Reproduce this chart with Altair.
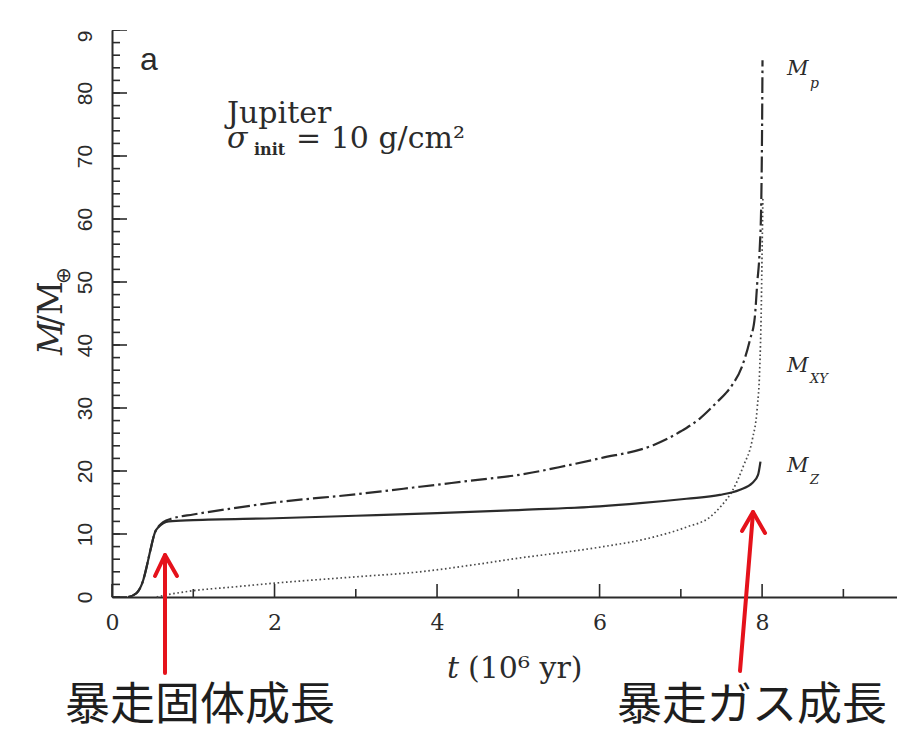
import altair as alt
import pandas as pd

# ---- data: mass components (Earth masses) against time (Myr) ----
# core (solid) mass M_Z
t_z = [0.20, 0.30, 0.38, 0.43, 0.47, 0.53, 0.58, 0.63, 0.70, 1.0, 2.0, 3.0, 4.0,
       5.0, 6.0, 6.5, 7.07, 7.48, 7.72, 7.88, 7.95, 7.98]
m_z = [0.0, 0.6, 2.5, 5.0, 7.3, 10.3, 11.2, 11.7, 12.0, 12.2, 12.5, 12.9, 13.3,
       13.8, 14.4, 14.9, 15.6, 16.2, 17.0, 18.1, 19.4, 21.5]

# envelope (gas) mass M_XY
t_xy = [0.55, 0.70, 1.0, 1.5, 2.0, 3.0, 3.79, 4.5, 5.02, 5.5, 6.0, 6.66, 7.07,
        7.36, 7.5, 7.64, 7.77, 7.88, 7.94, 7.97, 7.99, 8.0, 8.01]
m_xy = [0.0, 0.4, 1.0, 1.6, 2.2, 3.2, 4.0, 5.2, 6.2, 7.0, 7.9, 9.5, 11.1,
        12.7, 14.5, 17.0, 20.8, 25.0, 30.0, 36.0, 46.0, 55.0, 63.5]

# total planet mass M_p
t_p = [0.20, 0.30, 0.38, 0.43, 0.47, 0.53, 0.58, 0.63, 0.75, 1.0, 1.5, 2.0, 3.0,
       3.79, 4.5, 5.02, 5.5, 6.0, 6.66, 7.0, 7.24, 7.45, 7.55, 7.64, 7.75, 7.85,
       7.91, 7.94, 7.97, 7.99, 8.0, 8.005]
m_p = [0.0, 0.6, 2.5, 5.0, 7.3, 10.3, 11.3, 11.9, 12.5, 13.1, 14.1, 15.0, 16.3,
       17.5, 18.6, 19.4, 20.6, 22.0, 24.1, 26.3, 28.4, 31.0, 32.3, 33.8, 36.5, 40.8,
       44.4, 49.8, 55.1, 63.0, 75.0, 85.2]

# axis ticks
x_major = [0, 2, 4, 6, 8]
x_minor = [1, 3, 5, 7, 9]
y_major = list(range(0, 91, 10))
y_minor = list(range(0, 91, 2))

INK = "#2b2b2b"
RED = "#e5121b"
SERIF = "DejaVu Serif"

W, H = 785, 567
x_scale = alt.Scale(domain=[0, 9.66], nice=False, zero=False)
y_scale = alt.Scale(domain=[0, 90], nice=False, zero=False)

# one shared axis definition per channel, used by every layer
X_AXIS = alt.Axis(
    values=x_major, title=None, ticks=False, grid=False, labelFlush=False,
    labelFont=SERIF, labelFontSize=22, labelColor=INK, labelPadding=15,
    domainColor=INK, domainWidth=2)
Y_AXIS = alt.Axis(
    values=y_major, title=None, ticks=False, grid=False, labelFlush=False,
    labelAngle=270, labelAlign="center", labelBaseline="bottom",
    labelFont="Liberation Sans", labelFontSize=21, labelColor=INK,
    labelPadding=17, labelOverlap=False, labelBound=False,
    domainColor=INK, domainWidth=2)


def X(field):
    return alt.X(field, scale=x_scale, axis=X_AXIS)


def Y(field):
    return alt.Y(field, scale=y_scale, axis=Y_AXIS)


one = pd.DataFrame({"k": [0]})


def curve(t, m, dash, width, color):
    df = pd.DataFrame({"t": t, "m": m})
    kw = dict(color=color, strokeWidth=width, interpolate="monotone")
    if dash:
        kw["strokeDash"] = dash
    return alt.Chart(df).mark_line(**kw).encode(x=X("t:Q"), y=Y("m:Q"))


def text(s, x, y, size, font=SERIF, style="normal", weight="normal",
         align="left", baseline="alphabetic", angle=0, color=INK):
    return alt.Chart(one).mark_text(
        text=s, font=font, fontSize=size, fontStyle=style, fontWeight=weight,
        align=align, baseline=baseline, angle=angle, color=color,
    ).encode(x=alt.value(x), y=alt.value(y))


def seg(x1, y1, x2, y2, color=RED, width=4):
    return alt.Chart(one).mark_rule(color=color, strokeWidth=width, strokeCap="round").encode(
        x=alt.value(x1), y=alt.value(y1), x2=alt.value(x2), y2=alt.value(y2)
    )


# inward-pointing ticks
y_minor_ticks = alt.Chart(pd.DataFrame({"v": y_minor})).mark_rule(color=INK, strokeWidth=1.6).encode(
    y=Y("v:Q"), x=alt.value(0), x2=alt.value(8))
y_major_ticks = alt.Chart(pd.DataFrame({"v": y_major})).mark_rule(color=INK, strokeWidth=1.6).encode(
    y=Y("v:Q"), x=alt.value(0), x2=alt.value(15))
x_minor_ticks = alt.Chart(pd.DataFrame({"v": x_minor})).mark_rule(color=INK, strokeWidth=1.6).encode(
    x=X("v:Q"), y=alt.value(H), y2=alt.value(H - 8))
x_major_ticks = alt.Chart(pd.DataFrame({"v": x_major})).mark_rule(color=INK, strokeWidth=1.6).encode(
    x=X("v:Q"), y=alt.value(H), y2=alt.value(H - 13))

lines = [
    curve(t_xy, m_xy, [1.6, 2.6], 1.7, "#4a4a4a"),
    curve(t_z, m_z, None, 2.2, INK),
    curve(t_p, m_p, [16, 4, 2.5, 4], 2.2, INK),
]

# band above the frame
cover = alt.Chart(one).mark_rect(color="white").encode(
    x=alt.value(-112), x2=alt.value(W), y=alt.value(-30), y2=alt.value(0))

labels = [
    text("a", 37, 40, 32, font="Liberation Sans", align="center"),
    text("Jupiter", 115, 93, 30),
    text("σ", 115, 118, 30, style="italic"),
    text("init", 142, 125, 16, weight="bold"),
    text("= 10 g/cm²", 184, 118, 30),
    # curve names
    text("M", 675, 45, 21, style="italic"),
    text("p", 698, 58, 14, style="italic"),
    text("M", 675, 342, 21, style="italic"),
    text("XY", 698, 353, 13, style="italic"),
    text("M", 675, 442, 21, style="italic"),
    text("Z", 698, 454, 13, style="italic"),
    # axis titles
    text("M", -50, 325, 33, style="italic", angle=270),
    text("/M", -50, 296, 33, angle=270),
    text("⊕", -42, 254, 20, font="DejaVu Sans", angle=270),
    text("t", 335, 648, 30, style="italic"),
    text("(10⁶ yr)", 356, 648, 30),
    # phase annotations
    text("暴走固体成長", 88, 676, 45, font="Noto Sans CJK JP", align="center",
         baseline="middle", color="#1e1e1e"),
    text("暴走ガス成長", 640, 676, 45, font="Noto Sans CJK JP", align="center",
         baseline="middle", color="#1e1e1e"),
]

arrows = [
    seg(53, 643, 53, 526),
    seg(53, 525, 43, 546),
    seg(53, 525, 65, 546),
    seg(628, 641, 641, 483),
    seg(641, 482, 630, 501),
    seg(641, 482, 653, 503),
]

chart = alt.layer(
    y_minor_ticks, y_major_ticks, x_minor_ticks, x_major_ticks,
    *lines, cover, *labels, *arrows,
).properties(
    width=W, height=H,
    padding={"left": 112, "top": 30, "right": 0, "bottom": 138},
    autosize="none",
    background="white",
).configure_view(stroke=None)

chart.save("out.html", embed_options={"renderer": "svg", "actions": False})
